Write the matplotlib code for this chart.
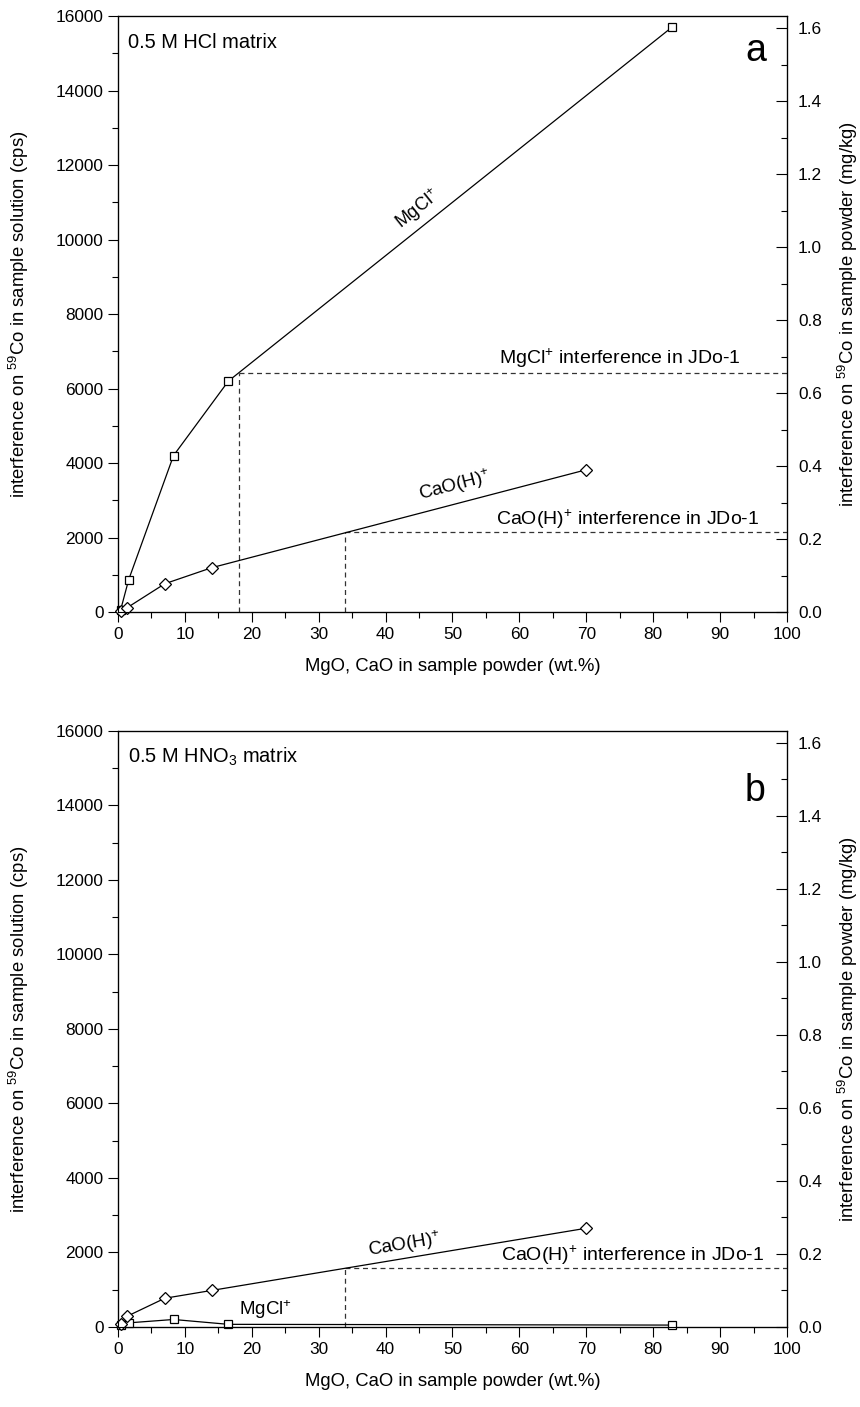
import numpy as np
import matplotlib
matplotlib.use("Agg")
import matplotlib.pyplot as plt
from matplotlib.ticker import MultipleLocator

plt.rcParams['font.family'] = ['Liberation Sans', 'DejaVu Sans']
plt.rcParams['mathtext.fontset'] = 'custom'
plt.rcParams['mathtext.rm'] = 'Liberation Sans'
plt.rcParams['mathtext.it'] = 'Liberation Sans'
plt.rcParams['mathtext.default'] = 'regular'

# ---- data: panel a (0.5 M HCl)
mgcl_x_a = [0.4, 1.6, 8.3, 16.5, 82.8]
mgcl_y_a = [60, 870, 4200, 6200, 15700]
caoh_x_a = [0.4, 1.4, 7.0, 14.0, 70.0]
caoh_y_a = [30, 120, 760, 1190, 3820]
jdo_mgcl_a = (18.1, 6420)
jdo_caoh_a = (34.0, 2140)

# ---- data: panel b (0.5 M HNO3)
mgcl_x_b = [0.4, 1.6, 8.3, 16.5, 82.8]
mgcl_y_b = [50, 110, 200, 70, 50]
caoh_x_b = [0.4, 1.4, 7.0, 14.0, 70.0]
caoh_y_b = [80, 290, 770, 980, 2650]
jdo_caoh_b = (34.0, 1580)

cps_to_mgkg = 1.633 / 16000.0

fig = plt.figure(figsize=(8.6, 14.07), dpi=100)
ax_a = fig.add_axes([0.1372, 0.565, 0.7779, 0.4236])
ax_b = fig.add_axes([0.1372, 0.0569, 0.7779, 0.4236])

fs_tick = 12.4
fs_lab = 13.3
fs_txt = 14


def setup(ax):
    ax.set_xlim(0, 100)
    ax.set_ylim(0, 16000)
    ax.xaxis.set_major_locator(MultipleLocator(10))
    ax.xaxis.set_minor_locator(MultipleLocator(5))
    ax.yaxis.set_major_locator(MultipleLocator(2000))
    ax.yaxis.set_minor_locator(MultipleLocator(1000))
    ax.tick_params(axis='both', which='major', direction='out', length=7,
                   width=0.8, labelsize=fs_tick, top=False, right=False)
    ax.tick_params(axis='both', which='minor', direction='out', length=4,
                   width=0.8, top=False, right=False)
    ax.set_xlabel('MgO, CaO in sample powder (wt.%)', fontsize=fs_lab,
                  labelpad=12)
    ax.set_ylabel('interference on $^{59}$Co in sample solution (cps)',
                  fontsize=fs_lab, labelpad=18)
    for s in ax.spines.values():
        s.set_linewidth(0.9)
    r = ax.twinx()
    r.set_ylim(0, 16000 * cps_to_mgkg)
    r.yaxis.set_major_locator(MultipleLocator(0.2))
    r.yaxis.set_minor_locator(MultipleLocator(0.1))
    r.yaxis.set_major_formatter(matplotlib.ticker.FormatStrFormatter('%.1f'))
    r.tick_params(axis='y', which='major', direction='in', length=8,
                  width=0.8, labelsize=fs_tick, pad=8)
    r.tick_params(axis='y', which='minor', direction='in', length=4, width=0.8)
    r.set_ylabel('interference on $^{59}$Co in sample powder (mg/kg)',
                 fontsize=fs_lab, labelpad=10)
    return r


def series(ax, x, y, marker, ms):
    ax.plot(x, y, color='black', lw=0.9, marker=marker, ms=ms,
            mfc='white', mec='black', mew=0.9, clip_on=False, zorder=3)


def jdo(ax, pt):
    x, y = pt
    ax.plot([x, x], [0, y], color='#333333', lw=0.9, ls=(0, (4, 3)))
    ax.plot([x, 100], [y, y], color='#333333', lw=0.9, ls=(0, (4, 3)))


# panel a
setup(ax_a)
series(ax_a, mgcl_x_a, mgcl_y_a, 's', 5.5)
series(ax_a, caoh_x_a, caoh_y_a, 'D', 6.5)
jdo(ax_a, jdo_mgcl_a)
jdo(ax_a, jdo_caoh_a)
ax_a.text(1.5, 15300, '0.5 M HCl matrix', fontsize=fs_txt + 0.4, va='center')
ax_a.text(95.4, 15050, 'a', fontsize=27, ha='center', va='center')
ax_a.text(44.8, 10800, 'MgCl$^{+}$', fontsize=fs_txt - 1, rotation=38.6,
          ha='center', va='center', rotation_mode='anchor')
ax_a.text(50.3, 3380, 'CaO(H)$^{+}$', fontsize=fs_txt - 0.5, rotation=14.6,
          ha='center', va='center', rotation_mode='anchor')
ax_a.text(93.1, 6820, 'MgCl$^{+}$ interference in JDo-1', fontsize=fs_txt,
          ha='right', va='center')
ax_a.text(95.8, 2480, 'CaO(H)$^{+}$ interference in JDo-1', fontsize=fs_txt,
          ha='right', va='center')

# panel b
setup(ax_b)
series(ax_b, mgcl_x_b, mgcl_y_b, 's', 5.5)
series(ax_b, caoh_x_b, caoh_y_b, 'D', 6.5)
jdo(ax_b, jdo_caoh_b)
ax_b.text(1.5, 15300, '0.5 M HNO$_3$ matrix', fontsize=fs_txt + 0.4, va='center')
ax_b.text(95.2, 14400, 'b', fontsize=27, ha='center', va='center')
ax_b.text(42.8, 2200, 'CaO(H)$^{+}$', fontsize=fs_txt - 0.5, rotation=9.4,
          ha='center', va='center', rotation_mode='anchor')
ax_b.text(22, 460, 'MgCl$^{+}$', fontsize=fs_txt - 0.5, ha='center', va='center')
ax_b.text(96.6, 1930, 'CaO(H)$^{+}$ interference in JDo-1', fontsize=fs_txt,
          ha='right', va='center')

fig.savefig('out.png', dpi=100)
